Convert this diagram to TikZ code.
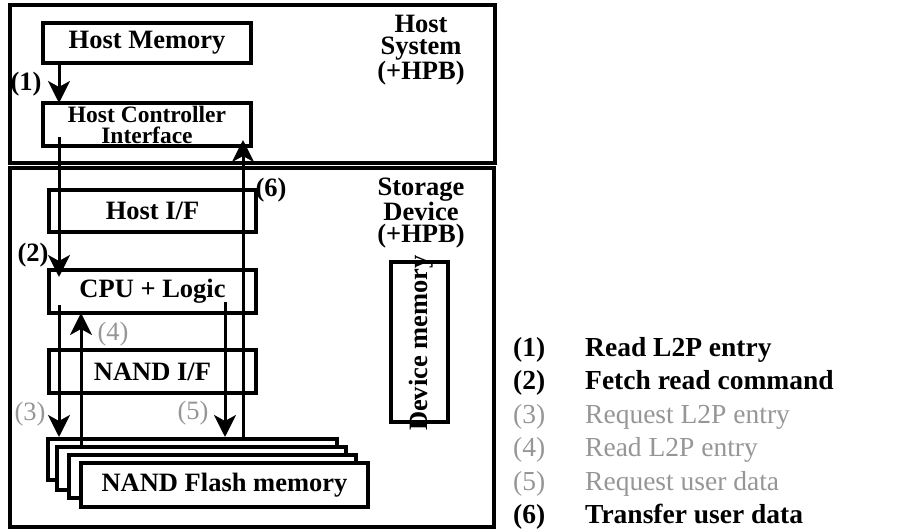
\documentclass[tikz,border=0pt]{standalone}
\usepackage{fontspec}
\setmainfont{Liberation Serif}
\usetikzlibrary{arrows.meta}
\definecolor{lgray}{RGB}{150,150,150}
\begin{document}
\begin{tikzpicture}[x=1pt,y=-1pt,
  box/.style={draw,line width=3.5pt,fill=white,inner sep=0pt},
  outer/.style={draw,line width=4pt,inner sep=0pt},
  lbl/.style={font=\fontsize{26.5}{22.5}\selectfont\bfseries,align=center,inner sep=0pt},
  glbl/.style={font=\fontsize{26.5}{22.5}\selectfont,text=lgray,inner sep=0pt},
  leg/.style={font=\fontsize{27.5}{23}\selectfont\bfseries,anchor=base west,inner sep=0pt},
  gleg/.style={font=\fontsize{27.5}{23}\selectfont,text=lgray,anchor=base west,inner sep=0pt},
  flow/.style={line width=3pt,-{Stealth[length=22pt,width=22pt,inset=6pt]}},
]
\useasboundingbox (0,0) rectangle (899,529);

% outer containers
\node[outer,minimum width=485pt,minimum height=158pt] (host) at (252.5,84) {};
\node[outer,minimum width=484pt,minimum height=359pt] (stor) at (252,347.5) {};
\node[lbl] (hosttxt) at (421,50) {Host\\System\\(+HPB)};
\node[lbl] (stortxt) at (421,213) {Storage\\Device\\(+HPB)};

% host side
\node[box,lbl,minimum width=208pt,minimum height=40pt] (hmem) at (147,43) {Host Memory};
\node[box,minimum width=208pt,minimum height=43pt,align=center,
  font=\fontsize{23.5}{21}\selectfont\bfseries] (hci) at (147,124.5) {Host Controller\\Interface};

% device side
\node[box,lbl,minimum width=207pt,minimum height=42pt] (hif) at (152.5,211) {Host I/F};
\node[box,lbl,minimum width=207pt,minimum height=43pt] (cpu) at (152.5,291.5) {CPU + Logic};
\node[box,lbl,minimum width=207pt,minimum height=43pt] (nif) at (152.5,371.5) {NAND I/F};
\node[box,minimum width=289pt,minimum height=41pt] (f1) at (192.5,459.5) {};
\node[box,minimum width=289pt,minimum height=43pt] (f2) at (201.5,468.5) {};
\node[box,minimum width=287pt,minimum height=43pt] (f3) at (212.5,476.5) {};
\node[box,lbl,minimum width=287pt,minimum height=44pt] (f4) at (224.5,485) {NAND Flash memory};
\node[box,fill=none,minimum width=57pt,minimum height=160pt] (dmem) at (419.5,342) {};
\node[lbl,rotate=90] (dmemtxt) at (421,343) {Device memory};

% connector end points
\coordinate (p1s) at (59,63);   \coordinate (p1e) at (59,103);
\coordinate (p2s) at (59,137);  \coordinate (p2e) at (59,277);
\coordinate (p3s) at (59,305);  \coordinate (p3e) at (59,437);
\coordinate (p4s) at (81,447);  \coordinate (p4e) at (81,313);
\coordinate (p5s) at (225,302); \coordinate (p5e) at (225,437);
\coordinate (p6s) at (243,439); \coordinate (p6e) at (243,140);

\draw[flow] (p1s) -- (p1e);
\draw[flow] (p2s) -- (p2e);
\draw[flow] (p3s) -- (p3e);
\draw[flow] (p4s) -- (p4e);
\draw[flow] (p5s) -- (p5e);
\draw[flow] (p6s) -- (p6e);

% step labels
\node[lbl] (l1) at (26,84) {(1)};
\node[lbl] (l2) at (33,255) {(2)};
\node[glbl] (l3) at (30,414) {(3)};
\node[glbl] (l4) at (113,334) {(4)};
\node[glbl] (l5) at (193,413) {(5)};
\node[lbl] (l6) at (271,190) {(6)};

% legend
\node[leg]  (n1) at (513,356) {(1)};
\node[leg]  (t1) at (585,356) {Read L2P entry};
\node[leg]  (n2) at (513,389.5) {(2)};
\node[leg]  (t2) at (585,389.5) {Fetch read command};
\node[gleg] (n3) at (513,423) {(3)};
\node[gleg] (t3) at (585,423) {Request L2P entry};
\node[gleg] (n4) at (513,456.5) {(4)};
\node[gleg] (t4) at (585,456.5) {Read L2P entry};
\node[gleg] (n5) at (513,490) {(5)};
\node[gleg] (t5) at (585,490) {Request user data};
\node[leg]  (n6) at (513,523) {(6)};
\node[leg]  (t6) at (585,523) {Transfer user data};
\end{tikzpicture}
\end{document}
